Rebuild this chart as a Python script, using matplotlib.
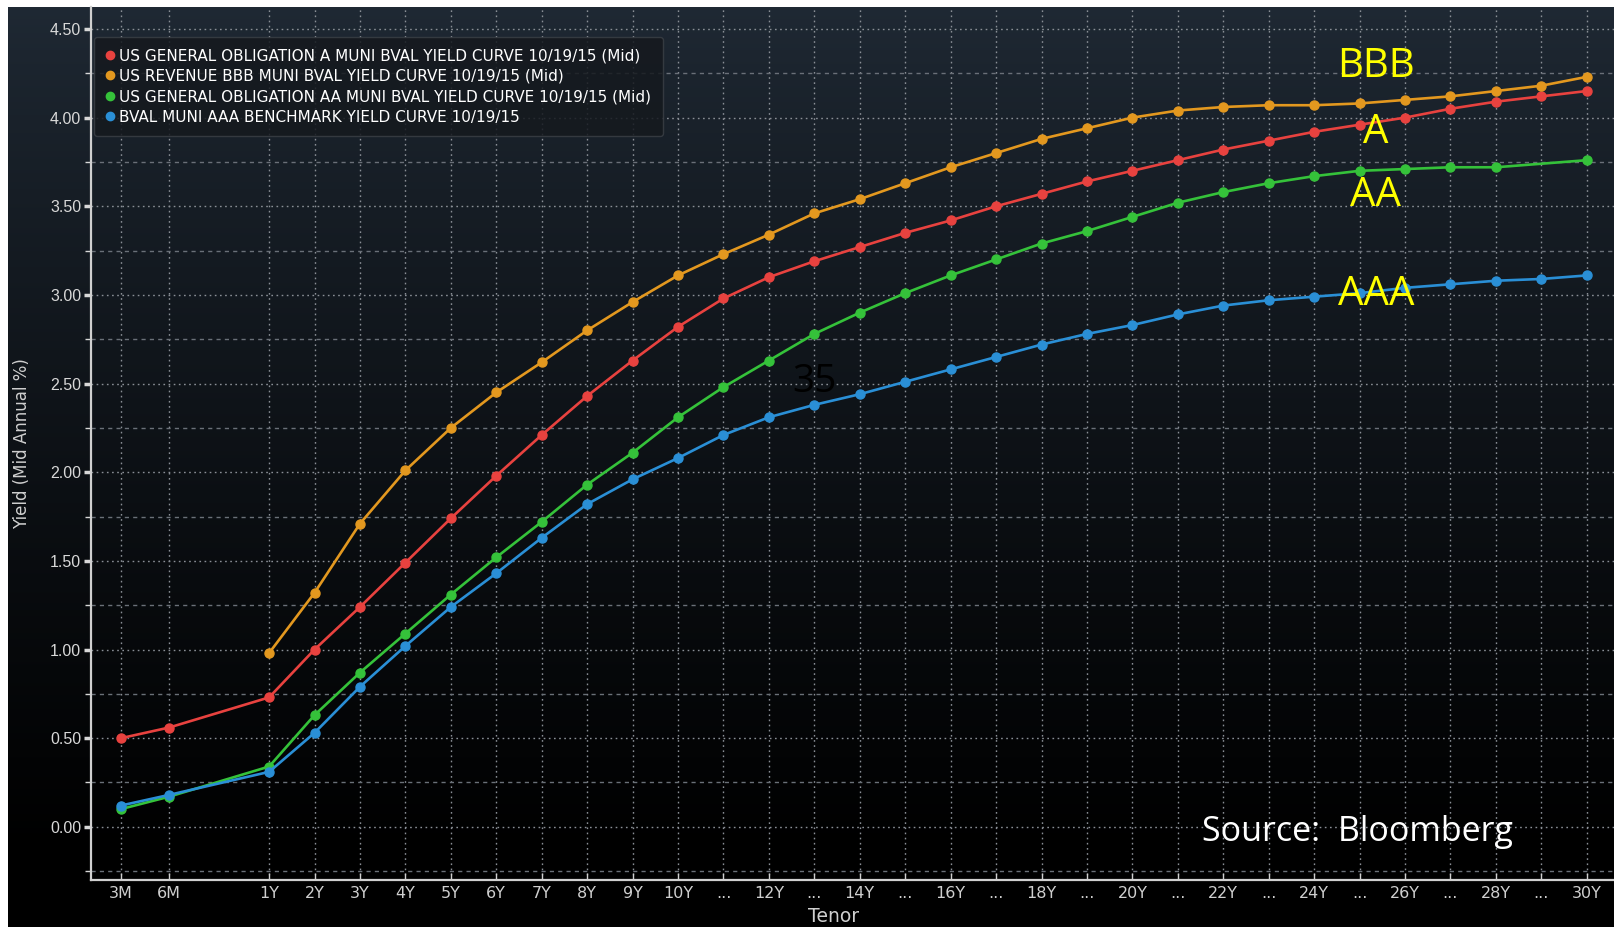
import numpy as np
import matplotlib
matplotlib.use('Agg')
import matplotlib.pyplot as plt
from matplotlib import font_manager
from matplotlib.lines import Line2D

# tenor axis: months squeezed on the left, then one slot per year
tenor_labels = ['3M', '6M'] + ['%dY' % y if (y <= 10 or y % 2 == 0) else '...' for y in range(1, 31)]
tenor_pos = [-2.26, -1.2] + list(range(1, 31))

nan = np.nan
yield_a = [0.50, 0.56, 0.73, 1.00, 1.24, 1.49, 1.74, 1.98, 2.21, 2.43, 2.63, 2.82,
           2.98, 3.10, 3.19, 3.27, 3.35, 3.42, 3.50, 3.57, 3.64, 3.70, 3.76, 3.82,
           3.87, 3.92, 3.96, 4.00, 4.05, 4.09, 4.12, 4.15]
yield_bbb = [nan, nan, 0.98, 1.32, 1.71, 2.01, 2.25, 2.45, 2.62, 2.80, 2.96, 3.11,
             3.23, 3.34, 3.46, 3.54, 3.63, 3.72, 3.80, 3.88, 3.94, 4.00, 4.04, 4.06,
             4.07, 4.07, 4.08, 4.10, 4.12, 4.15, 4.18, 4.23]
yield_aa = [0.10, 0.17, 0.34, 0.63, 0.87, 1.09, 1.31, 1.52, 1.72, 1.93, 2.11, 2.31,
            2.48, 2.63, 2.78, 2.90, 3.01, 3.11, 3.20, 3.29, 3.36, 3.44, 3.52, 3.58,
            3.63, 3.67, 3.70, 3.71, 3.72, 3.72, nan, 3.76]
yield_aaa = [0.12, 0.18, 0.31, 0.53, 0.79, 1.02, 1.24, 1.43, 1.63, 1.82, 1.96, 2.08,
             2.21, 2.31, 2.38, 2.44, 2.51, 2.58, 2.65, 2.72, 2.78, 2.83, 2.89, 2.94,
             2.97, 2.99, 3.01, 3.04, 3.06, 3.08, 3.09, 3.11]

series_names = ['US GENERAL OBLIGATION A MUNI BVAL YIELD CURVE 10/19/15 (Mid)',
                'US REVENUE BBB MUNI BVAL YIELD CURVE 10/19/15 (Mid)',
                'US GENERAL OBLIGATION AA MUNI BVAL YIELD CURVE 10/19/15 (Mid)',
                'BVAL MUNI AAA BENCHMARK YIELD CURVE 10/19/15']
series_colors = ['#e8423f', '#e3981f', '#35c23a', '#2a8fd6']

names = {f.name for f in font_manager.fontManager.ttflist}
narrow = 'Liberation Sans Narrow' if 'Liberation Sans Narrow' in names else 'DejaVu Sans'

W, H = 1614, 927
fig = plt.figure(figsize=(W / 100, H / 100), dpi=100)
fig.patch.set_facecolor('white')

# dark gradient behind the chart
bg = fig.add_axes([8 / W, 0, 1 - 8 / W, 920 / H])
t = np.linspace(0, 1, 400)
t = np.clip(t / 0.92, 0, 1) ** 0.85
top = np.array([0.122, 0.161, 0.204])
grad = (1 - t)[:, None] * top[None, :]
bg.imshow(grad[:, None, :], aspect='auto', extent=[0, 1, 0, 1])
bg.axis('off')

ax = fig.add_axes([91 / W, 47 / H, 1523 / W, 873 / H])
ax.patch.set_alpha(0)

for vals, col in zip([yield_a, yield_bbb, yield_aa, yield_aaa], series_colors):
    v = np.array(vals)
    p = np.array(tenor_pos, dtype=float)
    ok = ~np.isnan(v)
    ax.plot(p[ok], v[ok], color=col, lw=1.9, marker='o', ms=6.5, zorder=3)

ax.set_xlim(-2.92, 30.6)
ax.set_ylim(-0.30, 4.624)
ax.set_xticks(tenor_pos)
ax.set_xticklabels(tenor_labels, fontfamily=narrow, fontsize=11.5)
ax.set_yticks(np.arange(0, 4.51, 0.5))
ax.set_yticks(np.arange(-0.25, 4.51, 0.5), minor=True)
ax.set_yticklabels(['%.2f' % v for v in np.arange(0, 4.51, 0.5)], fontfamily='Liberation Sans', fontsize=11.5)

ax.tick_params(axis='x', colors='#cfcfcf', direction='in', length=5, width=1, pad=4)
ax.tick_params(axis='y', which='major', colors='#d8d8d8', direction='out', length=5, width=2.5, pad=2)
ax.tick_params(axis='y', which='minor', colors='#d8d8d8', direction='out', length=4, width=1)

ax.grid(True, axis='x', color='#8a8f96', ls=(0, (1.2, 2.5)), lw=1)
ax.grid(True, axis='y', which='major', color='#8a8f96', ls=(0, (1.2, 2.5)), lw=1)
ax.grid(True, axis='y', which='minor', color='#6a7078', ls=(0, (3, 3)), lw=1)

for s in ['top', 'right']:
    ax.spines[s].set_visible(False)
for s in ['left', 'bottom']:
    ax.spines[s].set_color('#d0d0d0')
    ax.spines[s].set_linewidth(1.6)

ax.set_ylabel('Yield (Mid Annual %)', color='#d0d0d0', fontsize=12, labelpad=14)
ax.set_xlabel('Tenor', color='#d0d0d0', fontfamily=narrow, fontsize=13.5, labelpad=5, x=(834 - 91) / 1523)

handles = [Line2D([], [], ls='none', marker='o', ms=6, color=c) for c in series_colors]
leg = ax.legend(handles, series_names, loc='upper left', bbox_to_anchor=(0.002, 0.966),
                prop={'family': narrow, 'size': 11}, labelcolor='white', borderaxespad=0,
                handlelength=0.6, handletextpad=0.3, labelspacing=0.36, borderpad=0.75,
                frameon=True, fancybox=True, framealpha=0.85)
leg.get_frame().set_facecolor('#15191e')
leg.get_frame().set_edgecolor('#3a3f45')

ann = dict(fontfamily='Open Sans', color='#ffff00', fontsize=29, ha='center', va='center', zorder=5)
ax.text(25.36, 4.285, 'BBB', **ann)
ax.text(25.36, 3.915, 'A', **ann)
ax.text(25.36, 3.56, 'AA', **ann)
ax.text(25.36, 3.0, 'AAA', **ann)
ax.text(13.0, 2.51, '35', fontfamily='Open Sans', color='black', fontsize=28, ha='center', va='center', zorder=5)
ax.text(24.95, -0.03, 'Source:  Bloomberg', fontfamily='Open Sans', color='white', fontsize=24.5,
        ha='center', va='center', zorder=5)

fig.savefig('out.png', dpi=100)
